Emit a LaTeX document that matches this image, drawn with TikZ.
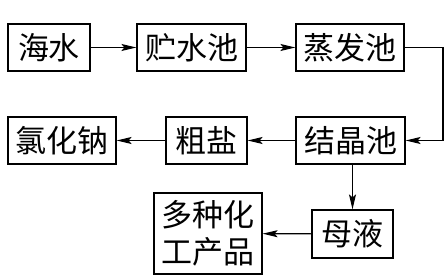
\documentclass[tikz,border=0pt]{standalone}
\usepackage{fontspec}
\newfontfamily\cjk{Noto Sans CJK SC}
\usetikzlibrary{arrows.meta}
\begin{document}
\begin{tikzpicture}[x=1pt,y=1pt,
  box/.style={draw,line width=1.2pt,inner sep=0pt,font=\cjk\fontsize{31}{37}\selectfont,align=center},
  arr/.style={line width=1.2pt,-{Stealth[length=15pt,width=7pt,inset=3pt]}}]
\useasboundingbox (0,0) rectangle (445,280);
\node[box,minimum width=82pt,minimum height=47pt] (haishui) at (49,232.5) {海水};
\node[box,minimum width=109pt,minimum height=47pt] (zhushui) at (191.5,232.5) {贮水池};
\node[box,minimum width=108pt,minimum height=47pt] (zhengfa) at (350,232.5) {蒸发池};
\node[box,minimum width=108pt,minimum height=47pt] (lvhuana) at (62,139.5) {氯化钠};
\node[box,minimum width=81pt,minimum height=47pt] (cuyan) at (206.5,139.5) {粗盐};
\node[box,minimum width=109pt,minimum height=47pt] (jiejing) at (350.5,139.5) {结晶池};
\node[box,minimum width=81pt,minimum height=48pt] (muye) at (352.5,46) {母液};
\node[box,minimum width=108pt,minimum height=81pt] (duozhong) at (208,46.5) {多种化\\工产品};
\coordinate (corner) at (443,232.5);
\draw[arr] (haishui) -- (zhushui);
\draw[arr] (zhushui) -- (zhengfa);
\draw[arr] (zhengfa.east) -- (corner) |- (jiejing.east);
\draw[arr] (jiejing) -- (cuyan);
\draw[arr] (cuyan) -- (lvhuana);
\draw[arr] (jiejing.south -| muye.north) -- (muye.north);
\draw[arr] (muye) -- (duozhong);
\end{tikzpicture}
\end{document}
